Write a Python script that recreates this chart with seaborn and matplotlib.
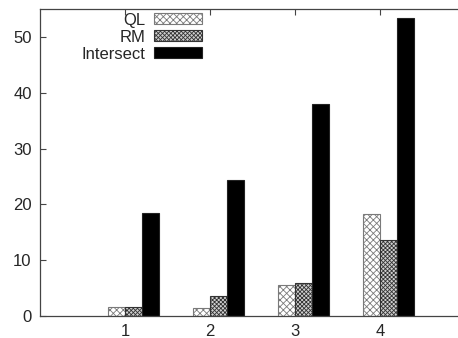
import matplotlib
matplotlib.use("Agg")
import matplotlib.pyplot as plt
import numpy as np
import pandas as pd
import seaborn as sns

groups = [1, 2, 3, 4]
series = ["QL", "RM", "Intersect"]
ql = [1.6, 1.5, 5.6, 18.2]
rm = [1.7, 3.5, 6.0, 13.7]
intersect = [18.5, 24.3, 38.0, 53.4]

df = pd.DataFrame({
    "group": groups * 3,
    "method": [s for s in series for _ in groups],
    "value": ql + rm + intersect,
})

sns.set_style("ticks")
plt.rcParams["font.family"] = ["Liberation Sans", "DejaVu Sans"]
plt.rcParams["hatch.linewidth"] = 0.6

fig = plt.figure(figsize=(4.58, 3.38), dpi=100)
ax = fig.add_axes([40 / 458, 22 / 338, 420 / 458, 307 / 338])

sns.barplot(data=df, x="group", y="value", hue="method", hue_order=series,
            native_scale=True, width=0.6, legend=False, ax=ax,
            palette=["white", "white", "black"], saturation=1)

styles = {
    "QL": dict(facecolor="white", edgecolor="#7a7a7a", hatch="xxxxx"),
    "RM": dict(facecolor="#d0d0d0", edgecolor="#333333", hatch="xxxxxxxx"),
    "Intersect": dict(facecolor="black", edgecolor="#222222", hatch=None),
}
for cont, name in zip(ax.containers, series):
    for bar in cont:
        bar.set_facecolor(styles[name]["facecolor"])
        bar.set_edgecolor(styles[name]["edgecolor"])
        bar.set_hatch(styles[name]["hatch"])
        bar.set_linewidth(0.8)

ax.set_xlim(-0.1, 4.84)
ax.set_ylim(0, 55)
ax.set_xticks([g - 0.1 for g in groups])
ax.set_xticklabels([str(g) for g in groups])
ax.set_yticks([0, 10, 20, 30, 40, 50])
ax.set_xlabel("")
ax.set_ylabel("")

for s in ax.spines.values():
    s.set_color("#444444")
    s.set_linewidth(0.9)
ax.spines["right"].set_visible(False)
ax.tick_params(direction="in", length=4, width=0.8, color="#444444",
               labelsize=12, top=True, right=False, pad=6)

handles = [cont.patches[0] for cont in ax.containers]
leg = ax.legend(handles, series, loc="upper right", bbox_to_anchor=(0.402, 1.01),
                frameon=False, markerfirst=False, fontsize=12,
                handlelength=2.9, handleheight=0.6, labelspacing=0.12,
                handletextpad=0.5, borderaxespad=0.0)

fig.savefig("out.png", dpi=100)
